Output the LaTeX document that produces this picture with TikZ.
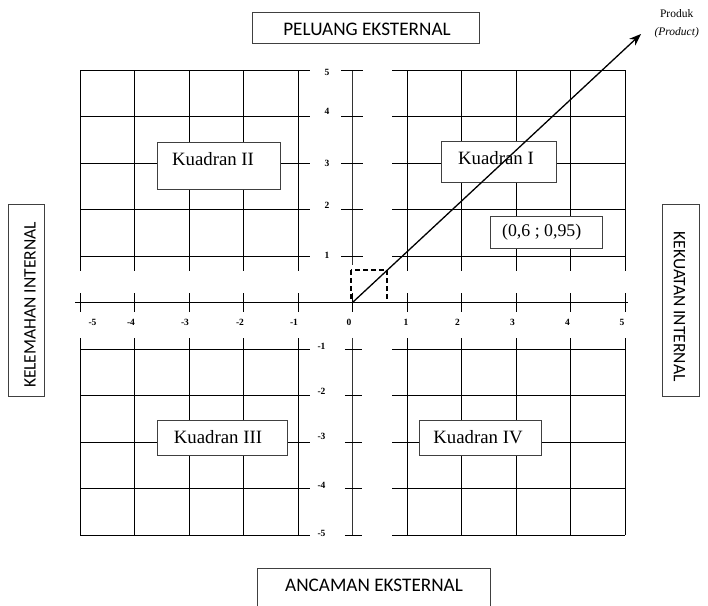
\documentclass[tikz,border=0pt]{standalone}
\usepackage{fontspec}
\setmainfont{Liberation Serif}
\newfontfamily\calib{Carlito}
\usetikzlibrary{arrows.meta}
\tikzset{
  gridline/.style={line width=1pt, black},
  axisline/.style={line width=1.4pt, black!80},
  framebox/.style={draw=black!75, line width=1pt, fill=white, inner sep=0pt},
  sidetxt/.style={font=\calib\fontsize{17.5}{20}\selectfont, inner sep=0pt},
  toptxt/.style={font=\calib\fontsize{19.2}{21}\selectfont, inner sep=0pt},
  qtxt/.style={font=\fontsize{18.8}{21}\selectfont, inner sep=0pt},
  numlbl/.style={font=\bfseries\fontsize{9.5}{11}\selectfont, inner sep=0pt},
  smalltxt/.style={font=\fontsize{11.5}{13}\selectfont, inner sep=0pt},
}
\begin{document}
\begin{tikzpicture}[x=1pt,y=-1pt]
\useasboundingbox (0,0) rectangle (708,605);
\clip (0,0) rectangle (708,605);
\fill[white] (0,0) rectangle (708,605);
% grid in axis units
\begin{scope}[shift={(352.5,302.5)}, x=54.5pt, y=46.5pt]
  % upper-left
  \foreach \u in {-5,...,-1} \draw[gridline] (\u,5) -- (\u,0.684);
  \foreach \v in {1,...,5} \draw[gridline] (-5,\v) -- (-0.78,\v);
  % upper-right
  \foreach \u in {1,...,5} \draw[gridline] (\u,5) -- (\u,0.684);
  \foreach \v in {1,...,5} \draw[gridline] (0.725,\v) -- (5,\v);
  % lower-left
  \foreach \u in {-5,...,-1} \draw[gridline] (\u,-5) -- (\u,-0.763);
  \foreach \v in {-1,...,-5} \draw[gridline] (-5,\v) -- (-0.78,\v);
  % lower-right
  \foreach \u in {1,...,5} \draw[gridline] (\u,-5) -- (\u,-0.763);
  \foreach \v in {-1,...,-5} \draw[gridline] (0.725,\v) -- (5,\v);
  % horizontal axis
  \draw[gridline] (-5.09,0) -- (5.055,0);
  \foreach \u in {-5,...,5} \draw[gridline] (\u,0.2) -- (\u,-0.2);
  % vertical axis
  \draw[axisline] (0,5) -- (0,0.806);
  \draw[axisline] (0,-0.763) -- (0,-5);
  \foreach \v in {1,...,5} \draw[gridline] (-0.21,\v) -- (0.19,\v);
  \foreach \v in {-1,...,-5} \draw[gridline] (-0.14,\v) -- (0.17,\v);
\end{scope}
% x labels
\node[numlbl] (xm5) at (92.5,322.5) {-5};
\node[numlbl] (xm4) at (131,322.5) {-4};
\node[numlbl] (xm3) at (185,322.5) {-3};
\node[numlbl] (xm2) at (240,322.5) {-2};
\node[numlbl] (xm1) at (294,322.5) {-1};
\node[numlbl] (x0) at (349,322.5) {0};
\node[numlbl] (x1) at (406,322.5) {1};
\node[numlbl] (x2) at (457.5,322.5) {2};
\node[numlbl] (x3) at (512.5,322) {3};
\node[numlbl] (x4) at (567.5,322.5) {4};
\node[numlbl] (x5) at (622,322.5) {5};
% y labels
\node[numlbl] (y5) at (327,72.7) {5};
\node[numlbl] (y4) at (327,111.7) {4};
\node[numlbl] (y3) at (327,163) {3};
\node[numlbl] (y2) at (327,205.5) {2};
\node[numlbl] (y1) at (327,255.5) {1};
\node[numlbl] (ym1) at (321.5,346.7) {-1};
\node[numlbl] (ym2) at (321.5,391.7) {-2};
\node[numlbl] (ym3) at (321.5,436.7) {-3};
\node[numlbl] (ym4) at (321.5,485) {-4};
\node[numlbl] (ym5) at (321.5,533.3) {-5};
% outer boxes
\node[framebox, minimum width=226.6pt, minimum height=31.3pt] (peluangbox) at (366,27.65) {};
\node[toptxt] (peluang) at (367,29.5) {PELUANG EKSTERNAL};
\node[framebox, minimum width=232.7pt, minimum height=44pt] (ancamanbox) at (373.65,590.3) {};
\node[toptxt] (ancaman) at (374,585) {ANCAMAN EKSTERNAL};
\node[framebox, minimum width=35.7pt, minimum height=192.7pt] (kelemahanbox) at (26.15,300.35) {};
\node[sidetxt, rotate=90] (kelemahan) at (30,305) {KELEMAHAN INTERNAL};
\node[framebox, minimum width=36.6pt, minimum height=192pt] (kekuatanbox) at (681,300) {};
\node[sidetxt, rotate=-90] (kekuatan) at (679.5,306.7) {KEKUATAN INTERNAL};
% quadrant boxes
\node[framebox, minimum width=123.4pt, minimum height=46.6pt] (k2box) at (219,166) {};
\node[qtxt] (k2) at (213,159) {Kuadran II};
\node[framebox, minimum width=115pt, minimum height=41pt] (k1box) at (498.5,161.5) {};
\node[qtxt] (k1) at (496,158) {Kuadran I};
\node[framebox, minimum width=130pt, minimum height=35pt] (k3box) at (222,437.5) {};
\node[qtxt] (k3) at (218,437) {Kuadran III};
\node[framebox, minimum width=122pt, minimum height=35pt] (k4box) at (480,437.5) {};
\node[qtxt] (k4) at (478,437) {Kuadran IV};
\node[framebox, minimum width=112.7pt, minimum height=32.3pt] (ptbox) at (546.35,232.15) {};
\node[qtxt, font=\fontsize{17.8}{20}\selectfont] (pt) at (541.7,232) {(0,6 ; 0,95)};
% dashed box and arrow
\coordinate (origin) at (352.5,302.5);
\coordinate (tip) at (641,34);
\draw[line width=1.1pt, dash pattern=on 5pt off 3pt] (351,270) rectangle (387,302.5);
\draw[line width=1.3pt, -{Stealth[length=12pt,width=9pt]}] (origin) -- (tip);
% product labels
\node[smalltxt] (produk) at (676.7,13.3) {Produk};
\node[smalltxt, font=\itshape\fontsize{11.5}{13}\selectfont] (product) at (676.7,33) {(Product)};
\end{tikzpicture}
\end{document}
